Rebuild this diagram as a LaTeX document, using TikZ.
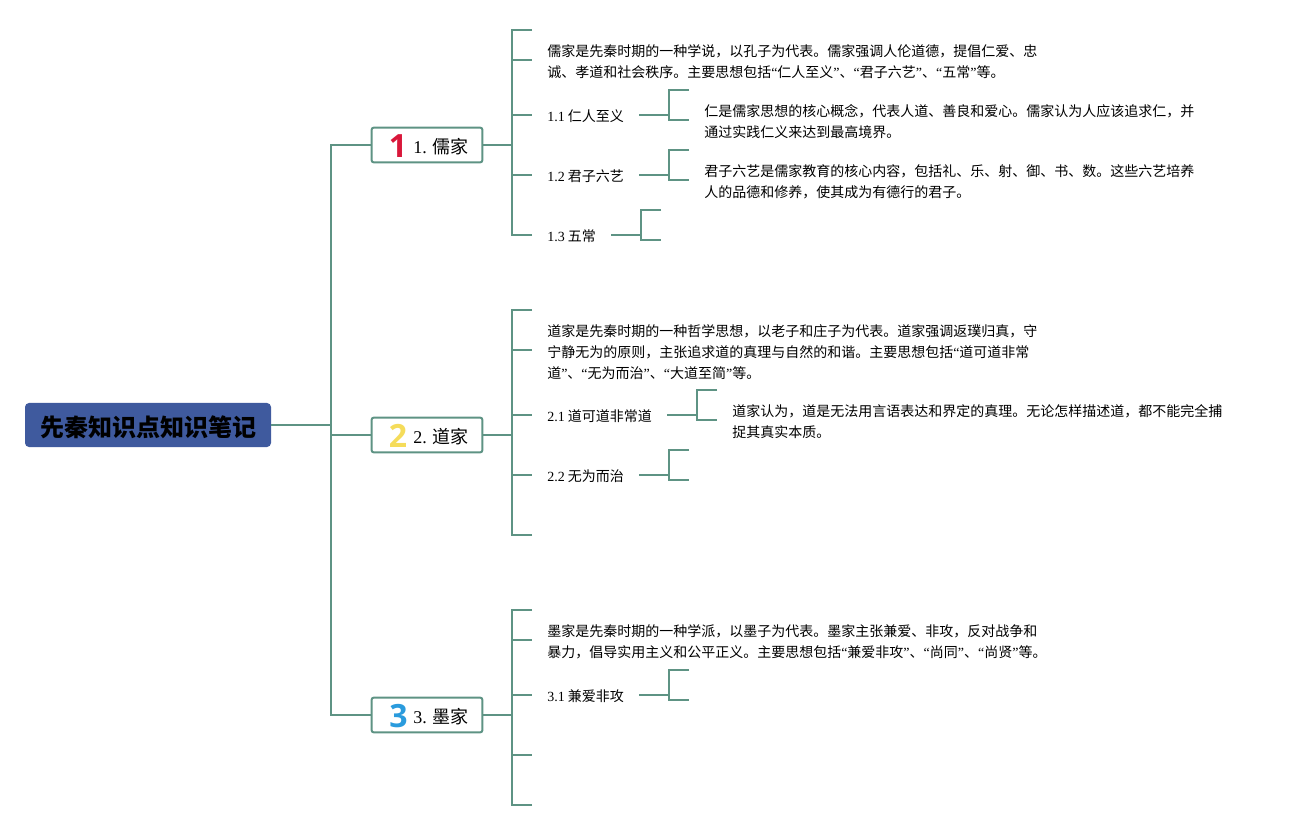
\documentclass[tikz,border=0pt]{standalone}
\usepackage{fontspec}
\setmainfont{Noto Sans CJK SC}
\newfontfamily\latf{Liberation Serif}
\newfontfamily\numf{Open Sans}
\newcommand{\lat}[1]{{\latf #1}}
\definecolor{conn}{HTML}{5E9384}
\definecolor{rootfill}{HTML}{3F5A9E}
\tikzset{
 px/.style={x=0.75pt,y=-0.75pt},
 line/.style={draw=conn,line width=1.5pt},
 rootbox/.style={rectangle,rounded corners=3pt,fill=rootfill,minimum width=184.5pt,minimum height=33pt,inner sep=0pt},
 roottext/.style={inner sep=0pt,font=\fontsize{18}{20}\selectfont\bfseries,text=black},
 branch/.style={rectangle,rounded corners=1.5pt,draw=conn,line width=1.5pt,fill=white,minimum width=83pt,minimum height=26pt,inner sep=0pt},
 branchtext/.style={anchor=west,inner sep=0pt,font=\fontsize{13.5}{15}\selectfont,text=black},
 label/.style={rectangle,anchor=west,inner xsep=11.25pt,inner ysep=0pt,align=left,font=\fontsize{10.5}{15.75}\selectfont,text=black},
 icon/.style={inner sep=0pt,font=\numf\bfseries\fontsize{24}{24}\selectfont},
 one/.style={yshift=0.75pt},
 two/.style={yshift=1.5pt},
}
\begin{document}
\begin{tikzpicture}[px]
\useasboundingbox (0,0) rectangle (1292,830);
% nodes
\node[rootbox] (root) at (148,425) {};
\node[roottext] (roott) at (148,427) {先秦知识点知识笔记};
\node[branch] (b1) at (427,145) {};
\node[branch] (b2) at (427,435) {};
\node[branch] (b3) at (427,715) {};
\node[branchtext] (b1t) at (413,146.5) {\lat{1.} 儒家};
\node[branchtext] (b2t) at (413,436.5) {\lat{2.} 道家};
\node[branchtext] (b3t) at (413,716.5) {\lat{3.} 墨家};
\node[icon,text={rgb,255:red,217;green,23;blue,58}] (i1) at (398,146) {1};
\node[icon,text={rgb,255:red,245;green,220;blue,90}] (i2) at (398,436) {2};
\node[icon,text={rgb,255:red,42;green,155;blue,221}] (i3) at (398.5,716) {3};
% branch 1 labels
\node[label] (t1) at (532,62) {儒家是先秦时期的一种学说，以孔子为代表。儒家强调人伦道德，提倡仁爱、忠\\诚、孝道和社会秩序。主要思想包括\lat{“}仁人至义\lat{”}、\lat{“}君子六艺\lat{”}、\lat{“}五常\lat{”}等。};
\node[label] (l11) at (532,116) {\lat{1.1} 仁人至义};
\node[label] (l12) at (532,176) {\lat{1.2} 君子六艺};
\node[label] (l13) at (532,236) {\lat{1.3} 五常};
\node[label] (t11) at (689,122) {仁是儒家思想的核心概念，代表人道、善良和爱心。儒家认为人应该追求仁，并\\通过实践仁义来达到最高境界。};
\node[label] (t12) at (689,182) {君子六艺是儒家教育的核心内容，包括礼、乐、射、御、书、数。这些六艺培养\\人的品德和修养，使其成为有德行的君子。};
% branch 2 labels
\node[label] (t2) at (532,352) {道家是先秦时期的一种哲学思想，以老子和庄子为代表。道家强调返璞归真，守\\宁静无为的原则，主张追求道的真理与自然的和谐。主要思想包括\lat{“}道可道非常\\道\lat{”}、\lat{“}无为而治\lat{”}、\lat{“}大道至简\lat{”}等。};
\node[label] (l21) at (532,416) {\lat{2.1} 道可道非常道};
\node[label] (l22) at (532,476) {\lat{2.2} 无为而治};
\node[label] (t21) at (717,422) {道家认为，道是无法用言语表达和界定的真理。无论怎样描述道，都不能完全捕\\捉其真实本质。};
% branch 3 labels
\node[label] (t3) at (532,642) {墨家是先秦时期的一种学派，以墨子为代表。墨家主张兼爱、非攻，反对战争和\\暴力，倡导实用主义和公平正义。主要思想包括\lat{“}兼爱非攻\lat{”}、\lat{“}尚同\lat{”}、\lat{“}尚贤\lat{”}等。};
\node[label] (l31) at (532,696) {\lat{3.1} 兼爱非攻};
% free ends
\coordinate (trunk) at (331,425);
\coordinate (e1a) at (532,30);
\coordinate (e2a) at (532,310);
\coordinate (e2e) at (532,535);
\coordinate (e3a) at (532,610);
\coordinate (e3d) at (532,755);
\coordinate (e3e) at (532,805);
\coordinate (e11) at (689,90);
\coordinate (e12) at (689,150);
\coordinate (e13a) at (661,210);
\coordinate (e13b) at (661,240);
\coordinate (e21) at (717,390);
\coordinate (e22a) at (689,450);
\coordinate (e22b) at (689,480);
\coordinate (e31a) at (689,670);
\coordinate (e31b) at (689,700);
\coordinate (j1) at (512,145);
\coordinate (j2) at (512,435);
\coordinate (j3) at (512,715);
\coordinate (k11) at (669,115);
\coordinate (k12) at (669,175);
\coordinate (k13) at (641,235);
\coordinate (k21) at (697,415);
\coordinate (k22) at (669,475);
\coordinate (k31) at (669,695);
% connectors
\draw[line] (root.east) -- (trunk);
\draw[line] (b1.west) -| (trunk);
\draw[line] (b3.west) -| (trunk);
\draw[line] (b2.west) -- (trunk |- b2.west);
% branch 1
\draw[line] (b1.east) -- (j1);
\draw[line] (e1a) -| (j1);
\draw[line] ([one]l13.west) -| (j1);
\draw[line] (j1 |- 0,60) -- ([two]t1.west);
\draw[line] (j1 |- k11) -- ([one]l11.west);
\draw[line] (j1 |- k12) -- ([one]l12.west);
\draw[line] ([one]l11.east) -- (k11);
\draw[line] (e11) -| (k11) |- ([two]t11.west);
\draw[line] ([one]l12.east) -- (k12);
\draw[line] (e12) -| (k12) |- ([two]t12.west);
\draw[line] ([one]l13.east) -- (k13);
\draw[line] (e13a) -| (k13) |- (e13b);
% branch 2
\draw[line] (b2.east) -- (j2);
\draw[line] (e2a) -| (j2);
\draw[line] (e2e) -| (j2);
\draw[line] (j2 |- 0,350) -- ([two]t2.west);
\draw[line] (j2 |- k21) -- ([one]l21.west);
\draw[line] (j2 |- k22) -- ([one]l22.west);
\draw[line] ([one]l21.east) -- (k21);
\draw[line] (e21) -| (k21) |- ([two]t21.west);
\draw[line] ([one]l22.east) -- (k22);
\draw[line] (e22a) -| (k22) |- (e22b);
% branch 3
\draw[line] (b3.east) -- (j3);
\draw[line] (e3a) -| (j3);
\draw[line] (e3e) -| (j3);
\draw[line] (j3 |- 0,640) -- ([two]t3.west);
\draw[line] (j3 |- k31) -- ([one]l31.west);
\draw[line] (j3 |- e3d) -- (e3d);
\draw[line] ([one]l31.east) -- (k31);
\draw[line] (e31a) -| (k31) |- (e31b);
\end{tikzpicture}
\end{document}
